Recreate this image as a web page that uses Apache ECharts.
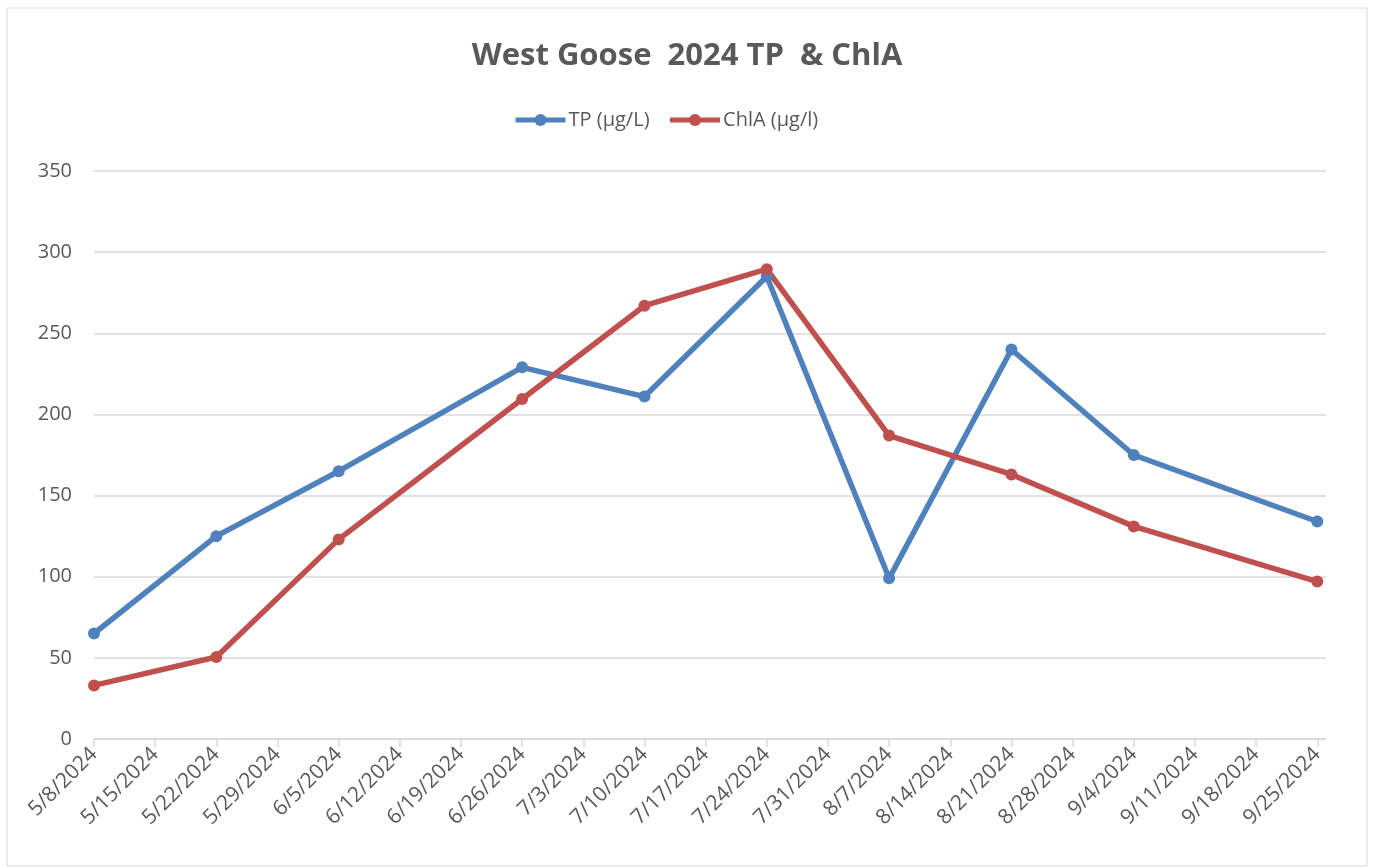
<!DOCTYPE html>
<html>
<head>
<meta charset="utf-8">
<script src="https://cdn.jsdelivr.net/npm/echarts@6/dist/echarts.min.js"></script>
<style>
  html, body { margin: 0; padding: 0; background: #fff; }
  #main { width: 1374px; height: 867px; }
</style>
</head>
<body>
<div id="main"></div>
<script>
// weekly tick labels on the date axis
var dates = ['5/8/2024', '5/15/2024', '5/22/2024', '5/29/2024', '6/5/2024', '6/12/2024', '6/19/2024',
  '6/26/2024', '7/3/2024', '7/10/2024', '7/17/2024', '7/24/2024', '7/31/2024', '8/7/2024',
  '8/14/2024', '8/21/2024', '8/28/2024', '9/4/2024', '9/11/2024', '9/18/2024', '9/25/2024'];
// sample dates and values
var sampleDates = ['5/8/2024', '5/22/2024', '6/5/2024', '6/26/2024', '7/10/2024', '7/24/2024',
  '8/7/2024', '8/21/2024', '9/4/2024', '9/25/2024'];
var tpValues = [65, 125, 165, 229, 211, 285, 99, 240, 175, 134];
var chlaValues = [33, 50.5, 123, 209.5, 267, 289.5, 187, 163, 131, 97];

// days since first date
function dayOf(s) {
  var p = s.split('/');
  var t = Date.UTC(+p[2], +p[0] - 1, +p[1]);
  var p0 = dates[0].split('/');
  var t0 = Date.UTC(+p0[2], +p0[0] - 1, +p0[1]);
  return Math.round((t - t0) / 86400000);
}
var tickDays = dates.map(dayOf);
var labelByDay = {};
dates.forEach(function (d) { labelByDay[dayOf(d)] = d; });

function toSeries(vals) {
  return sampleDates.map(function (d, i) { return [dayOf(d), vals[i]]; });
}

var font = '"Open Sans", "Liberation Sans", sans-serif';
var grey = '#595959';
var chart = echarts.init(document.getElementById('main'));
var option = {
  animation: false,
  textStyle: { fontFamily: font },
  title: {
    text: 'West Goose  2024 TP  & ChlA',
    left: 'center',
    top: 36,
    textStyle: { color: grey, fontSize: 31, fontWeight: 'bold', fontFamily: font }
  },
  legend: {
    top: 105,
    left: 508,
    itemWidth: 50,
    itemHeight: 15,
    itemGap: 18,
    lineStyle: { width: 5 },
    textStyle: { color: grey, fontSize: 20, fontFamily: font, padding: [0, 0, 0, -2] },
    data: ['TP (µg/L)', 'ChlA (µg/l)']
  },
  graphic: [{
    type: 'rect',
    shape: { x: 7, y: 8, width: 1360, height: 858 },
    style: { fill: 'none', stroke: '#d9d9d9', lineWidth: 1 },
    silent: true
  }],
  grid: { left: 94, right: 48, top: 171, bottom: 128 },
  xAxis: {
    type: 'value',
    min: 0,
    max: 141,
    interval: 7,
    splitLine: { show: false },
    axisLine: { lineStyle: { color: '#d9d9d9', width: 1.5 } },
    axisTick: { show: true, length: 8, customValues: tickDays, lineStyle: { color: '#d9d9d9', width: 1.5 } },
    axisLabel: {
      customValues: tickDays,
      rotate: 45,
      color: grey,
      fontSize: 21,
      margin: 12,
      fontFamily: font,
      formatter: function (v) { return labelByDay[v] || ''; }
    }
  },
  yAxis: {
    type: 'value',
    min: 0,
    max: 350,
    interval: 50,
    axisLine: { show: false },
    axisTick: { show: false },
    splitLine: { lineStyle: { color: '#d9d9d9', width: 1.5 } },
    axisLabel: { color: grey, fontSize: 20, margin: 22, fontFamily: font }
  },
  series: [{
    name: 'TP (µg/L)',
    type: 'line',
    data: toSeries(tpValues),
    symbol: 'circle',
    symbolSize: 12,
    color: '#4f81bd',
    lineStyle: { width: 5.5, color: '#4f81bd' },
    itemStyle: { color: '#4f81bd' }
  }, {
    name: 'ChlA (µg/l)',
    type: 'line',
    data: toSeries(chlaValues),
    symbol: 'circle',
    symbolSize: 12,
    color: '#c0504d',
    lineStyle: { width: 5.5, color: '#c0504d' },
    itemStyle: { color: '#c0504d' }
  }]
};
chart.setOption(option);
</script>
</body>
</html>
